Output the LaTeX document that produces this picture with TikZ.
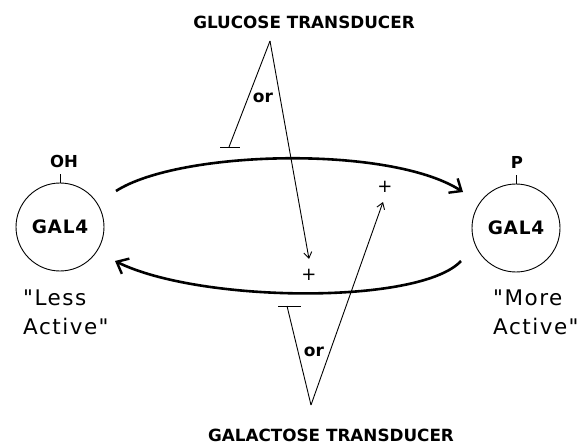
\documentclass[tikz,border=0pt]{standalone}
\usepackage{fontspec}
\setmainfont{DejaVu Sans}
\newfontfamily\statefont{DejaVu Sans}[Ligatures=TeXOff,LetterSpace=7]
\usetikzlibrary{arrows.meta,calc}

\begin{document}
\begin{tikzpicture}
	[x=1pt,y=-1pt,
	 cycle/.style={-{Straight Barb[length=10pt,width=17pt,line width=2.4pt]},line width=2.6pt},
	 signal/.style={line width=0.9pt},
	 activate/.style={signal,-{Straight Barb[length=6pt,width=8pt,line width=0.9pt]}},
	 transducer/.style={font=\bfseries\fontsize{16.8}{20}\selectfont,inner sep=0pt},
	 cell/.style={circle,draw,line width=0.9pt,minimum size=88pt,inner sep=0pt,
	   font=\bfseries\addfontfeature{LetterSpace=4}\fontsize{18.5}{20}\selectfont},
	 site/.style={font=\bfseries\fontsize{16.5}{20}\selectfont,inner sep=0pt},
	 gate/.style={font=\bfseries\fontsize{17}{20}\selectfont,inner sep=0pt},
	 effect/.style={font=\fontsize{18}{20}\selectfont,inner sep=0pt},
	 state/.style={font=\statefont\fontsize{21.5}{29}\selectfont,
	   align=left,anchor=north west,inner sep=0pt}]
	\useasboundingbox (0,0) rectangle (582,444);

	% the two forms of GAL4
	\node[cell] (less) at (60,227) {GAL4};
	\node[cell] (more) at (516,228) {GAL4};
	\node[site] (oh) at (64,161) {OH};
	\node[site] (p) at (517,162) {P};
	\draw[signal] (less.north) -- ++(0,-9);
	\draw[signal] (more.north) -- ++(0,-9);
	\node[state] (lesslabel) at (23,290) {"Less\\Active"};
	\node[state] (morelabel) at (493,290) {"More\\Active"};

	% conversion cycle
	\coordinate (ltop) at (116,191);
	\coordinate (rtop) at (463,192);
	\coordinate (rbot) at (461,261);
	\coordinate (lbot) at (115,261);
	\draw[cycle] (ltop) .. controls (180,150) and (390,145) .. (rtop);
	\draw[cycle] (rbot) .. controls (420,305) and (200,303) .. (lbot);
	\node[effect] (topplus) at (385,187) {+};
	\node[effect] (botplus) at (309,275) {+};

	%
	% glucose signal
	%
	\node[transducer] (glucose) at (304,22) {GLUCOSE TRANSDUCER};
	\coordinate (gluapex) at (270,41);
	\coordinate (glubar) at (229,147);
	\coordinate (gluhead) at (309,259);
	\draw[signal] (gluapex) -- (glubar);
	\draw[signal] ($(glubar)+(-9,0)$) -- ($(glubar)+(11,0)$);
	\draw[activate] (gluapex) -- (gluhead);
	\node[gate] (gluor) at (263,98) {or};

	%
	% galactose signal
	%
	\node[transducer] (galactose) at (331,435) {GALACTOSE TRANSDUCER};
	\coordinate (galapex) at (311,405);
	\coordinate (galbar) at (287,306);
	\coordinate (galhead) at (383,202);
	\draw[signal] (galapex) -- (galbar);
	\draw[signal] ($(galbar)+(-9,0)$) -- ($(galbar)+(14,0)$);
	\draw[activate] (galapex) -- (galhead);
	\node[gate] (galor) at (314,352) {or};

\end{tikzpicture}
\end{document}
